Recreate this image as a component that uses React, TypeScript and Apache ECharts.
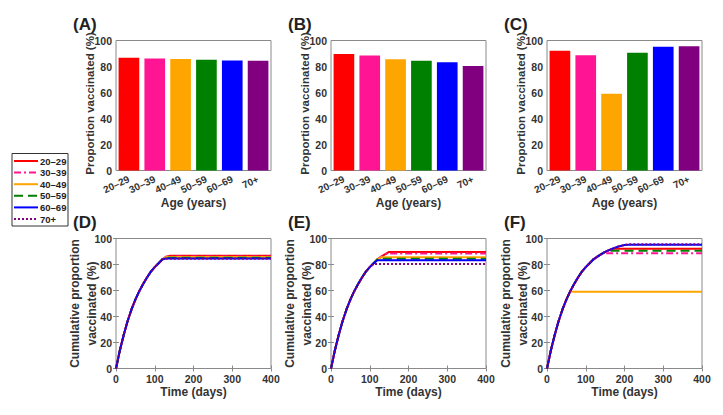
import React, { useEffect, useRef } from 'react';
import * as echarts from 'echarts';

// ---- Data ----
const ageGroups = ['20–29', '30–39', '40–49', '50–59', '60–69', '70+'];
const groupColors = ['#ff0000', '#ff1493', '#ffa500', '#008000', '#0000ff', '#800080'];

// Final proportion vaccinated (%) per age group, scenarios A/B/C (bars) = plateaus of D/E/F
const scenarioA = [86.7, 86.2, 85.7, 85.1, 84.6, 84.4];
const scenarioB = [89.7, 88.5, 85.6, 84.4, 83.3, 80.3];
const scenarioC = [92.1, 88.7, 59.0, 90.5, 95.1, 95.6];

const timeDays = [0, 10, 20, 30, 40, 50, 60, 70, 80, 90, 100, 110, 120, 130, 140, 150, 160, 170, 180, 190, 200, 210, 220, 230, 240, 400];
const uptakeCurve = [0, 14, 26, 36.5, 45.5, 53, 59.5, 65, 70, 74.5, 78, 81, 84, 86, 88, 89.7, 91, 92.3, 93.4, 94.3, 95, 95.5, 96, 96, 96, 96];

const yTicks = [0, 20, 40, 60, 80, 100];
const timeTicks = [0, 100, 200, 300, 400];
const panelLabels = ['(A)', '(B)', '(C)', '(D)', '(E)', '(F)'];

const FONT = '"Liberation Sans", Arial, Helvetica, sans-serif';
const TXT = '#333333';
const BOX = '#8a8a8a';
const dashTypes: any[] = ['solid', [7, 3, 2, 3], 'solid', [9, 5], 'solid', [2, 2]];

export default function App() {
  const ref = useRef<HTMLDivElement>(null);
  useEffect(() => {
    const chart = echarts.init(ref.current!, null, { renderer: 'svg' });
    const colLeft = [116, 331, 547];
    const plotW = 155;
    const rowTop = [40.5, 238.5];
    const plotH = 130;

    const grids: any[] = [];
    const xAxes: any[] = [];
    const yAxes: any[] = [];
    const series: any[] = [];
    const graphics: any[] = [];
    const barData = [scenarioA, scenarioB, scenarioC];

    const tickStyle = { inside: true, length: 3, lineStyle: { color: BOX } };
    const labelStyle = { color: TXT, fontWeight: 'bold', fontFamily: FONT };

    for (let r = 0; r < 2; r++) {
      for (let c = 0; c < 3; c++) {
        const i = r * 3 + c;
        grids.push({
          left: colLeft[c], top: rowTop[r], width: plotW, height: plotH,
          show: true, borderColor: BOX, borderWidth: 1, backgroundColor: '#fff',
        });
        if (r === 0) {
          xAxes.push({
            type: 'category', gridIndex: i, data: ageGroups, position: 'bottom',
            axisLine: { show: false },
            axisTick: { ...tickStyle, alignWithLabel: true },
            axisLabel: { ...labelStyle, fontSize: 10, rotate: 25, margin: 8, interval: 0 },
          });
          xAxes.push({
            type: 'category', gridIndex: i, data: ageGroups, position: 'top',
            axisLine: { show: false },
            axisTick: { ...tickStyle, alignWithLabel: true },
            axisLabel: { show: false },
          });
        } else {
          xAxes.push({
            type: 'value', gridIndex: i, min: timeTicks[0], max: timeTicks[timeTicks.length - 1],
            interval: timeTicks[1] - timeTicks[0], position: 'bottom',
            axisLine: { show: false }, splitLine: { show: false },
            axisTick: tickStyle,
            axisLabel: { ...labelStyle, fontSize: 10.5, margin: 5 },
          });
          xAxes.push({
            type: 'value', gridIndex: i, min: timeTicks[0], max: timeTicks[timeTicks.length - 1],
            interval: timeTicks[1] - timeTicks[0], position: 'top',
            axisLine: { show: false }, splitLine: { show: false },
            axisTick: tickStyle, axisLabel: { show: false },
          });
        }
        yAxes.push({
          type: 'value', gridIndex: i, min: yTicks[0], max: yTicks[yTicks.length - 1],
          interval: yTicks[1] - yTicks[0], position: 'left',
          axisLine: { show: false }, splitLine: { show: false },
          axisTick: tickStyle,
          axisLabel: { ...labelStyle, fontSize: 10.5, margin: 4 },
        });
        yAxes.push({
          type: 'value', gridIndex: i, min: yTicks[0], max: yTicks[yTicks.length - 1],
          interval: yTicks[1] - yTicks[0], position: 'right',
          axisLine: { show: false }, splitLine: { show: false },
          axisTick: tickStyle, axisLabel: { show: false },
        });

        const cx = colLeft[c] + plotW / 2;
        const cy = rowTop[r] + plotH / 2;
        graphics.push({
          type: 'text', x: colLeft[c] - 43, y: rowTop[r] - 16,
          style: { text: panelLabels[i], fill: '#222', fontSize: 17, fontWeight: 'bold', fontFamily: FONT, align: 'left', verticalAlign: 'middle' },
        });
        if (r === 0) {
          series.push({
            type: 'bar', xAxisIndex: 2 * i, yAxisIndex: 2 * i, barWidth: '80%',
            data: barData[c].map((v, k) => ({ value: v, itemStyle: { color: groupColors[k] } })),
          });
          graphics.push({
            type: 'text', x: colLeft[c] - 26, y: cy - 2, rotation: Math.PI / 2,
            style: { text: 'Proportion vaccinated (%)', fill: TXT, fontSize: 11.5, fontWeight: 'bold', fontFamily: FONT, align: 'center', verticalAlign: 'middle' },
          });
          graphics.push({
            type: 'text', x: cx, y: 203,
            style: { text: 'Age (years)', fill: TXT, fontSize: 12, fontWeight: 'bold', fontFamily: FONT, align: 'center', verticalAlign: 'middle' },
          });
        } else {
          for (let k = 0; k < ageGroups.length; k++) {
            const plateau = barData[c][k];
            series.push({
              type: 'line', name: ageGroups[k], xAxisIndex: 2 * i, yAxisIndex: 2 * i,
              symbol: 'none', showSymbol: false,
              data: timeDays.map((t, j) => [t, Math.min(uptakeCurve[j], plateau)]),
              lineStyle: { color: groupColors[k], width: 2, type: dashTypes[k] },
              itemStyle: { color: groupColors[k] },
            });
          }
          graphics.push({
            type: 'text', x: colLeft[c] - 33, y: cy, rotation: Math.PI / 2,
            style: { text: 'Cumulative proportion\nvaccinated (%)', fill: TXT, fontSize: 12, lineHeight: 17, fontWeight: 'bold', fontFamily: FONT, align: 'center', verticalAlign: 'middle' },
          });
          graphics.push({
            type: 'text', x: cx, y: 392,
            style: { text: 'Time (days)', fill: TXT, fontSize: 12, fontWeight: 'bold', fontFamily: FONT, align: 'center', verticalAlign: 'middle' },
          });
        }
      }
    }

    // Legend (drawn as graphics so the line styles show without markers)
    const legX = 12, legY = 153.5, legW = 56, legH = 72.5, rowGap = 11.6;
    graphics.push({
      type: 'rect', shape: { x: legX, y: legY, width: legW, height: legH },
      style: { fill: '#fff', stroke: '#333', lineWidth: 1 },
    });
    ageGroups.forEach((g, k) => {
      const y = legY + 7.5 + k * rowGap;
      const dash = dashTypes[k];
      graphics.push({
        type: 'line', shape: { x1: legX + 2, y1: y, x2: legX + 26, y2: y },
        style: { stroke: groupColors[k], lineWidth: 2, lineDash: Array.isArray(dash) ? dash : null },
      });
      graphics.push({
        type: 'text', x: legX + 28, y,
        style: { text: g, fill: '#222', fontSize: 9.5, fontWeight: 'bold', fontFamily: FONT, align: 'left', verticalAlign: 'middle' },
      });
    });

    chart.setOption({
      animation: false,
      backgroundColor: '#ffffff',
      grid: grids,
      xAxis: xAxes,
      yAxis: yAxes,
      series,
      graphic: graphics,
    });
    return () => chart.dispose();
  }, []);
  return <div ref={ref} style={{ position: 'fixed', left: 0, top: 0, width: 723, height: 415, background: '#fff' }} />;
}
